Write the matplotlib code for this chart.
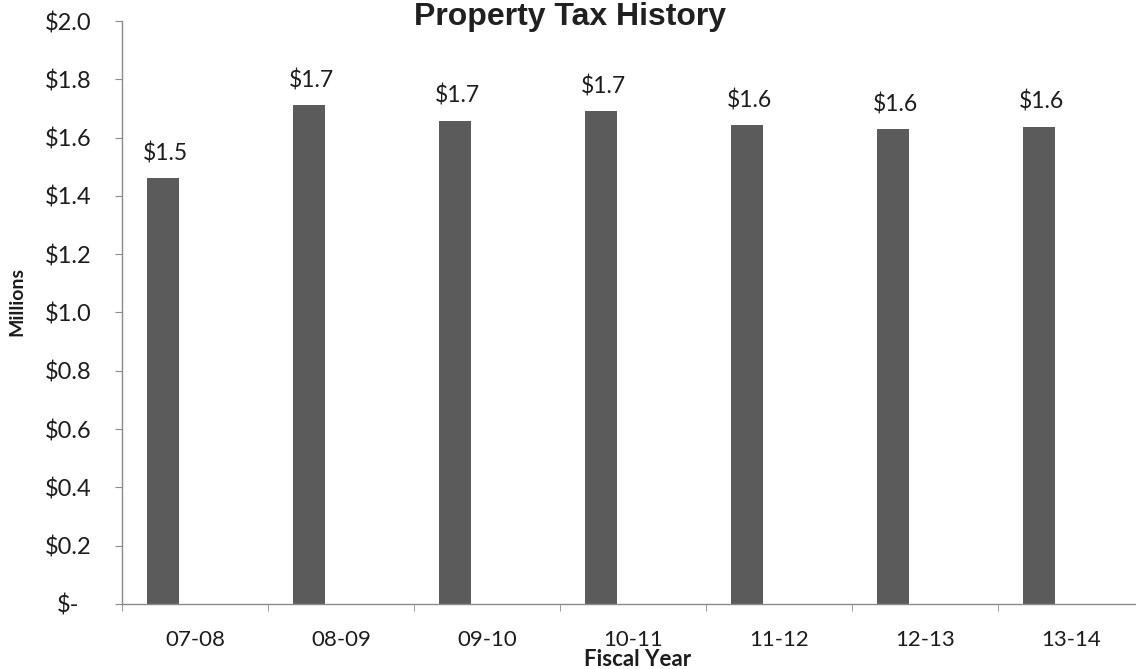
import numpy as np
import matplotlib
matplotlib.use("Agg")
import matplotlib.pyplot as plt
from matplotlib.ticker import FixedLocator

# Property tax revenue by fiscal year, in millions of dollars
years = ["07-08", "08-09", "09-10", "10-11", "11-12", "12-13", "13-14"]
revenue = [1.461, 1.712, 1.658, 1.691, 1.643, 1.628, 1.637]
y_ticks = [0.0, 0.2, 0.4, 0.6, 0.8, 1.0, 1.2, 1.4, 1.6, 1.8, 2.0]
y_tick_labels = ["$-", "$0.2", "$0.4", "$0.6", "$0.8", "$1.0",
                 "$1.2", "$1.4", "$1.6", "$1.8", "$2.0"]

plt.rcParams['font.family'] = ['Lato', 'DejaVu Sans']
text_color = "#1c1c1c"

fig = plt.figure(figsize=(11.36, 6.69), dpi=100)
ax = fig.add_axes([0.1074, 0.0972, 0.8996, 0.8714])

x = np.arange(len(years))
bar_w = 0.22
bars = ax.bar(x - 0.22, revenue, width=bar_w, color="#5b5b5b", zorder=2)

# value labels above each bar
for b, v in zip(bars, revenue):
    ax.annotate("${:.1f}".format(v), (b.get_x() + b.get_width() / 2, v),
                xytext=(2, 10), textcoords="offset points",
                ha="center", va="bottom", fontsize=16.5, color=text_color)

ax.set_xlim(-0.5, len(years) - 0.5)
ax.set_ylim(0, 2.0)
ax.set_yticks(y_ticks)
ax.set_yticklabels(y_tick_labels)
ax.set_xticks(x)
ax.set_xticklabels(years)
# ticks between categories on the x axis
ax.xaxis.set_minor_locator(FixedLocator(np.arange(-0.5, len(years), 1.0)))
ax.tick_params(axis="x", which="major", length=0, pad=19,
               labelsize=16, labelcolor=text_color)
ax.tick_params(axis="x", which="minor", length=5, color="#8a8a8a")
ax.tick_params(axis="y", length=5, color="#8a8a8a", pad=34,
               labelsize=17, labelcolor=text_color)
for lbl in ax.get_yticklabels():
    lbl.set_horizontalalignment("center")

for side in ["top", "right"]:
    ax.spines[side].set_visible(False)
for side in ["left", "bottom"]:
    ax.spines[side].set_color("#8a8a8a")
    ax.spines[side].set_linewidth(1.0)

fig.text(570 / 1136, 1 - 25 / 669, "Property Tax History",
         family="Liberation Sans", fontweight="bold", fontsize=23,
         ha="center", va="baseline", color="#202020")
fig.text(17 / 1136, 1 - 301 / 669, "Millions", rotation=90,
         fontweight="bold", fontsize=14, ha="center", va="center",
         color=text_color)
fig.text(638 / 1136, 1 - 659 / 669, "Fiscal Year", fontweight="bold",
         fontsize=16, ha="center", va="center", color=text_color)

fig.savefig("out.png", dpi=100, facecolor="white")
